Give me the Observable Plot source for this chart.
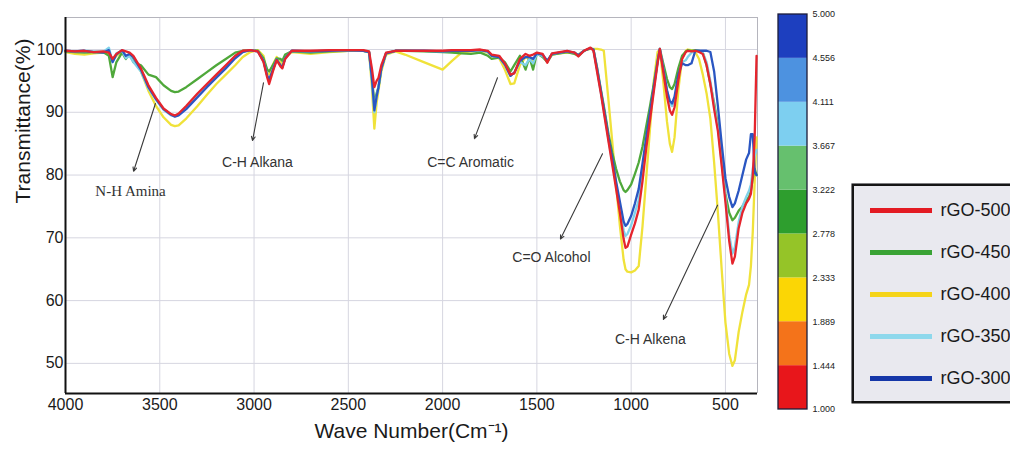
<!DOCTYPE html>
<html><head><meta charset="utf-8">
<script src="https://cdn.jsdelivr.net/npm/d3@7"></script>
<script src="https://cdn.jsdelivr.net/npm/@observablehq/plot@0.6"></script>
<style>
html,body{margin:0;padding:0;background:#fff;overflow:hidden;}
#wrap{position:relative;width:1010px;height:450px;overflow:hidden;font-family:"Liberation Sans",Arial,sans-serif;}
#wrap > svg{position:absolute;}
</style></head><body><div id="wrap"></div>
<script>
const wave = [4000,3950,3900,3850,3800,3770,3750,3730,3700,3680,3660,3640,3600,3560,3520,3480,3440,3420,3400,3360,3300,3250,3200,3150,3100,3060,3020,2980,2950,2930,2920,2900,2880,2860,2850,2835,2800,2700,2600,2500,2420,2390,2375,2362,2350,2340,2325,2300,2250,2200,2100,2000,1950,1900,1850,1800,1760,1740,1700,1670,1640,1620,1590,1560,1540,1520,1500,1470,1445,1420,1380,1340,1300,1280,1250,1216,1200,1180,1160,1145,1120,1100,1080,1060,1040,1030,1020,1000,980,960,940,920,900,880,860,848,830,810,795,783,770,750,730,710,700,680,660,640,620,600,580,560,540,520,500,480,463,450,430,410,390,375,365,355,345,335];

const rGO500 = [99.8,99.7,99.8,99.6,99.7,99.5,98.5,99.3,99.9,99.7,99.5,99.0,97.0,94.3,92.3,90.6,89.7,89.5,89.8,91.0,93.0,94.5,96.0,97.5,99.0,99.8,99.9,99.7,98.0,95.5,94.5,96.5,98.3,97.3,97.0,98.5,99.8,99.8,99.9,99.9,99.9,99.7,97.0,94.0,95.0,95.5,97.5,99.5,99.8,99.8,99.8,99.8,99.9,99.9,99.9,100.0,99.8,99.2,99.0,97.8,96.0,96.2,98.5,99.3,99.0,99.2,99.5,99.3,97.9,99.4,99.6,99.8,99.5,98.9,99.8,100.3,99.8,96.3,92.9,90.0,85.3,81.6,77.8,74.0,69.8,68.4,68.6,70.5,72.3,74.5,79.0,84.3,88.8,93.3,97.8,100.1,96.5,92.5,90.3,89.6,90.8,95.0,98.5,99.6,99.8,99.7,99.8,99.6,99.3,97.5,94.5,90.5,87.0,81.5,75.7,69.5,65.9,67.0,71.5,74.0,75.5,76.2,77.0,80.0,86.0,99.0];

const rGO450 = [99.7,99.6,99.5,99.6,99.6,99.0,95.6,98.0,99.5,98.5,99.3,98.0,97.5,96.0,95.6,94.3,93.4,93.2,93.3,94.0,95.3,96.4,97.5,98.5,99.5,99.8,99.9,99.8,98.6,96.8,96.5,97.5,98.6,98.5,98.2,99.2,99.7,99.5,99.7,99.8,99.8,99.6,95.5,91.5,93.0,94.0,97.0,99.4,99.8,99.8,99.7,99.6,99.5,99.4,99.3,99.5,99.0,98.5,98.7,98.0,96.5,97.5,99.0,96.8,98.8,96.8,99.4,98.8,98.0,99.2,99.4,99.6,99.3,99.0,99.8,100.2,100.0,97.0,93.5,91.0,86.5,83.5,81.0,79.0,77.6,77.3,77.6,78.5,80.2,82.0,84.5,87.8,91.0,94.5,98.2,100.1,97.8,95.3,94.0,93.7,94.5,97.0,99.0,99.7,99.9,99.8,99.9,99.8,99.5,97.5,94.5,91.5,88.0,82.5,77.0,74.0,72.8,73.2,74.3,75.0,76.0,76.5,77.5,79.5,81.0,80.0];

const rGO400 = [99.6,99.3,99.2,99.4,99.5,99.3,98.2,99.0,99.6,98.8,99.2,98.5,96.5,93.4,91.0,89.2,88.0,87.8,87.9,89.0,91.0,92.8,94.5,96.0,97.5,98.8,99.6,99.9,99.0,96.2,96.0,97.6,98.8,98.0,97.6,98.8,99.6,99.3,99.6,99.8,99.8,99.5,94.0,87.4,91.5,93.5,96.5,99.2,99.7,99.2,98.0,96.8,98.2,99.5,99.7,99.8,99.5,99.0,98.6,96.8,94.5,94.6,97.5,98.8,98.5,98.0,99.4,99.0,98.2,99.2,99.4,99.5,99.4,99.2,99.8,100.1,100.1,100.1,100.0,99.8,91.8,85.2,78.5,72.0,66.5,65.0,64.6,64.5,64.8,65.5,71.8,79.6,87.4,95.0,99.6,100.0,95.0,88.5,85.0,83.7,86.0,93.5,98.5,99.8,100.0,99.9,99.6,98.5,96.0,93.0,89.0,82.0,74.0,65.0,56.5,51.5,49.6,50.5,55.0,58.2,61.0,62.5,65.5,71.0,79.0,86.0];

const rGO350 = [99.8,99.7,99.8,99.7,99.6,100.3,98.0,99.4,99.8,98.6,99.0,98.0,96.5,93.8,92.0,90.4,89.5,89.4,89.6,90.7,92.6,94.2,95.7,97.2,98.8,99.7,99.9,99.7,98.2,95.8,95.0,96.8,98.4,97.5,97.2,98.6,99.8,99.7,99.8,99.9,99.8,99.6,95.0,90.0,92.5,94.0,97.0,99.4,99.8,99.8,99.8,99.7,99.8,99.8,99.8,99.9,99.6,99.0,98.8,97.6,95.8,96.3,98.0,97.5,98.5,97.8,99.3,99.0,98.2,99.3,99.5,99.7,99.5,99.1,99.8,100.2,100.0,96.6,93.0,90.3,85.6,82.0,78.4,74.8,71.2,70.3,70.6,72.0,74.0,76.0,80.5,85.0,89.5,93.7,98.0,100.1,97.0,93.5,91.5,91.0,92.0,95.5,98.0,98.3,98.8,99.5,99.8,99.7,99.5,98.0,95.0,91.0,87.5,82.0,76.5,70.5,67.5,68.5,72.5,75.0,76.5,77.5,78.5,81.0,83.0,84.0];

const rGO300 = [99.8,99.7,99.8,99.6,99.5,99.9,98.0,99.2,99.9,99.0,99.3,98.8,96.8,94.0,92.1,90.5,89.6,89.3,89.5,90.5,92.4,94.0,95.5,97.0,98.6,99.6,99.9,99.7,98.2,95.8,95.2,96.8,98.4,97.5,97.2,98.6,99.8,99.7,99.8,99.9,99.8,99.6,95.5,90.3,92.5,94.0,97.0,99.4,99.8,99.8,99.8,99.7,99.8,99.8,99.8,99.9,99.7,99.0,98.8,97.6,95.8,96.3,98.2,98.8,98.8,98.5,99.4,99.2,98.2,99.3,99.5,99.7,99.5,99.1,99.8,100.2,100.0,96.8,93.3,90.6,86.0,82.6,79.0,75.8,72.6,71.9,72.2,73.5,75.5,77.8,81.8,86.0,90.0,94.0,98.0,100.1,97.0,93.5,91.8,91.4,92.5,96.0,97.8,97.5,97.5,97.8,99.8,99.8,99.8,99.8,99.6,96.5,91.0,85.0,79.5,76.5,74.9,75.5,77.5,80.0,82.5,83.5,86.5,86.5,80.5,80.0];

const seriesNames = ["rGO-500","rGO-450","rGO-400","rGO-350","rGO-300"];
const seriesValues = [rGO500, rGO450, rGO400, rGO350, rGO300];
const lineColors = ["#e5252d","#4fa83a","#f0e23a","#80d2ea","#2a56c2"];
const legendColors = ["#e31b23","#3aa335","#f5d418","#8ed8ec","#1537a8"];
const drawOrder = ["rGO-400","rGO-450","rGO-350","rGO-300","rGO-500"];

const xTicks = [4000,3500,3000,2500,2000,1500,1000,500];
const yTicks = [50,60,70,80,90,100];

const cbBreaks = [1.000,1.444,1.889,2.333,2.778,3.222,3.667,4.111,4.556,5.000];
const cbColors = ["#e8161b","#f4731a","#fbd605","#95c428","#2e9e2e","#66c06e","#7dcff0","#4d92e0","#1d3fbf"];

const annoLabels = ["N-H Amina","C-H Alkana","C=C Aromatic","C=O Alcohol","C-H Alkena"];
const annoTextW = [3655,2982,1852,1423,898];
const annoTextT = [77.4,82.0,82.0,66.9,53.8];
const arrowFromW = [3523,2950,1709,1152,542];
const arrowFromT = [91.4,94.7,95.5,83.4,75.2];
const arrowToW = [3639,3008,1831,1375,829];
const arrowToT = [80.6,85.5,85.8,69.8,57.0];

seriesValues.forEach((v,i)=>{ if (v.length !== wave.length) throw new Error(seriesNames[i]+" length "+v.length+" vs "+wave.length); });

const sans = '"Liberation Sans", Arial, sans-serif';
const serif = '"Liberation Serif", "Times New Roman", serif';

const rows = [];
drawOrder.forEach(name => {
  const i = seriesNames.indexOf(name);
  seriesValues[i].forEach((t,j) => rows.push({name, w: wave[j], t}));
});

const X0 = 4000, X1 = 330, Y0 = 45.2, Y1 = 105.1;
const idx = d3.range(annoLabels.length);

const main = Plot.plot({
  width: 770, height: 450,
  marginLeft: 65, marginRight: 13, marginTop: 17, marginBottom: 57,
  style: {fontFamily: sans, fontSize: "16px", color: "#1a1a1a", background: "transparent", overflow: "visible"},
  x: {domain: [X0, X1], ticks: xTicks, tickSize: 0, tickPadding: 5, tickFormat: d => String(d), label: null},
  y: {domain: [Y0, Y1], ticks: yTicks, tickSize: 0, tickPadding: 2, tickFormat: d => String(d), label: null},
  color: {domain: seriesNames, range: lineColors},
  marks: [
    Plot.ruleX(xTicks.slice(1), {stroke: "#d6d6e0", strokeWidth: 1}),
    Plot.ruleY(yTicks, {stroke: "#d6d6e0", strokeWidth: 1}),
    Plot.ruleX([X1], {stroke: "#b5b5bd", strokeWidth: 1}),
    Plot.ruleY([Y1], {stroke: "#b5b5bd", strokeWidth: 1}),
    Plot.line(rows, {x: "w", y: "t", z: "name", stroke: "name", strokeWidth: 2.3, curve: "linear"}),
    Plot.ruleX([X0], {stroke: "#111", strokeWidth: 2}),
    Plot.ruleY([Y0], {stroke: "#111", strokeWidth: 2}),
    Plot.arrow(idx, {x1: i => arrowFromW[i], y1: i => arrowFromT[i], x2: i => arrowToW[i], y2: i => arrowToT[i],
      stroke: "#3a3a3a", strokeWidth: 1.1, headLength: 6, headAngle: 50}),
    Plot.text([0], {x: i => annoTextW[i], y: i => annoTextT[i], text: i => annoLabels[i],
      fontFamily: serif, fontSize: 15, fill: "#333"}),
    Plot.text([1,2,3,4], {x: i => annoTextW[i], y: i => annoTextT[i], text: i => annoLabels[i],
      fontFamily: sans, fontSize: 14, fill: "#333"}),
    Plot.text(["Wave Number(Cm\u207B\u00B9)"], {frameAnchor: "bottom", dy: 44, fontSize: 21, fill: "#1a1a1a"}),
    Plot.text(["Transmittance(%)"], {frameAnchor: "left", dx: -42, dy: -2, rotate: -90, fontSize: 21, fill: "#1a1a1a"})
  ]
});
main.style.left = "0px"; main.style.top = "0px";

const cbIdx = d3.range(cbColors.length);
const colorbar = Plot.plot({
  width: 90, height: 450, marginLeft: 0, marginRight: 0, marginTop: 0, marginBottom: 0,
  style: {fontFamily: sans, background: "transparent", overflow: "visible"},
  x: {domain: [0, 1], range: [8, 37], axis: null},
  y: {domain: [1, 5], range: [409, 14], axis: null},
  color: {type: "identity"},
  marks: [
    Plot.rect(cbIdx, {x1: 0, x2: 1, y1: i => cbBreaks[i], y2: i => cbBreaks[i+1], fill: i => cbColors[i]}),
    Plot.rect([0], {x1: 0, x2: 1, y1: 1, y2: 5, fill: "none", stroke: "#1c1c3a", strokeWidth: 1.3}),
    Plot.text(cbBreaks, {x: 1, y: d => d, text: d => d.toFixed(3), dx: 5, textAnchor: "start", fontSize: 9, fill: "#222"})
  ]
});
colorbar.style.left = "770px"; colorbar.style.top = "0px";

const legend = Plot.plot({
  width: 175, height: 220, marginLeft: 0, marginRight: 0, marginTop: 0, marginBottom: 0,
  style: {fontFamily: sans, background: "#e9e9ef", overflow: "visible"},
  x: {domain: [0, 175], range: [0, 175], axis: null},
  y: {type: "point", domain: seriesNames, range: [26, 196], padding: 0, axis: null},
  color: {type: "identity"},
  marks: [
    Plot.ruleY(seriesNames, {y: d => d, x1: 19, x2: 81, stroke: d => legendColors[seriesNames.indexOf(d)], strokeWidth: 5}),
    Plot.text(seriesNames, {x: 89, y: d => d, text: d => d, textAnchor: "start", fontSize: 18, fill: "#1a1a1a"}),
    Plot.frame({stroke: "#151515", strokeWidth: 2.5, inset: 1.25})
  ]
});
legend.style.left = "851px"; legend.style.top = "183px";

const wrap = document.getElementById("wrap");
wrap.appendChild(main);
wrap.appendChild(colorbar);
wrap.appendChild(legend);
</script>
</body></html>
